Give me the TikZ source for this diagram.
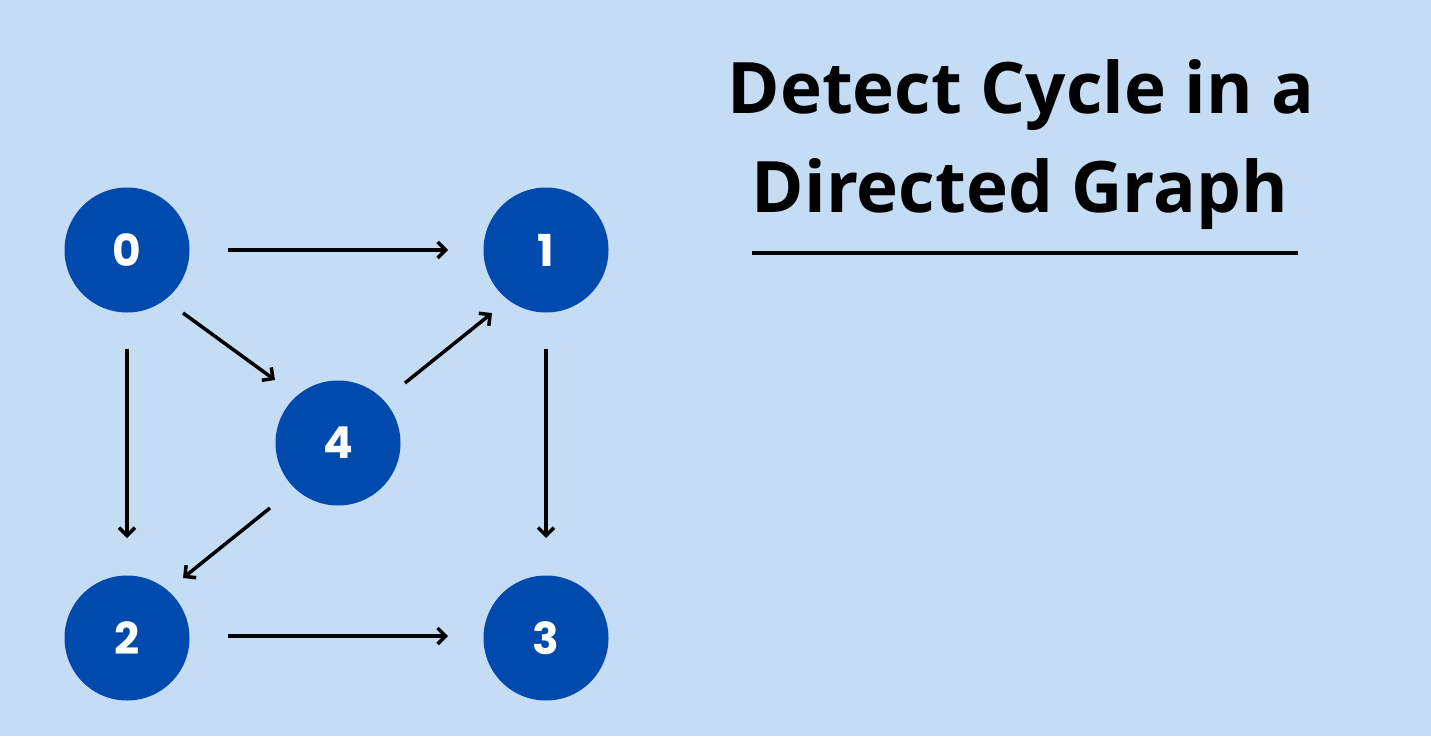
\documentclass[tikz,border=0pt]{standalone}
\usepackage{fontspec}
\setmainfont{Open Sans}
\newfontfamily\digitfont{Poppins}
\usetikzlibrary{arrows.meta,calc}
\definecolor{bgblue}{HTML}{C5DCF5}
\definecolor{nodeblue}{HTML}{004AAD}
\tikzset{
  vertex/.style={circle, fill=nodeblue, minimum size=125pt, inner sep=0pt,
    text=white, font=\digitfont\bfseries\fontsize{44}{44}\selectfont},
  edge/.style={line width=3.5pt, draw=black,
    -{Straight Barb[length=8pt,width=16pt,line width=3.5pt]}},
  title/.style={font=\bfseries\fontsize{71}{84}\selectfont, text=black, align=center, inner sep=0pt}
}
\begin{document}
\begin{tikzpicture}[x=1pt,y=-1pt]
\fill[bgblue] (0,0) rectangle (1431,736);
\useasboundingbox (0,0) rectangle (1431,736);
\node[vertex] (n0) at (127,250) {0};
\node[vertex] (n1) at (546,250) {1};
\node[vertex] (n2) at (127,638) {2};
\node[vertex] (n3) at (546,638) {3};
\node[vertex] (n4) at (338,443) {4};
\draw[edge] ($(n0)+(101,0)$) -- ($(n1)+(-98,0)$);
\draw[edge] ($(n0)+(56,63)$) -- ($(n4)+(-63,-63)$);
\draw[edge] ($(n0)+(0,99)$) -- ($(n2)+(0,-100)$);
\draw[edge] ($(n4)+(67,-60)$) -- ($(n1)+(-54,63)$);
\draw[edge] ($(n1)+(0,99)$) -- ($(n3)+(0,-100)$);
\draw[edge] ($(n4)+(-68,65)$) -- ($(n2)+(56,-60)$);
\draw[edge] ($(n2)+(101,-2)$) -- ($(n3)+(-98,-2)$);
\node[title, anchor=base] (t1) at (1021,113) {Detect Cycle in a};
\node[title, anchor=base] (t2) at (1020,212) {Directed Graph};
\coordinate (u1) at (752,253);
\coordinate (u2) at (1298,253);
\draw[line width=4pt] (u1) -- (u2);
\end{tikzpicture}
\end{document}
